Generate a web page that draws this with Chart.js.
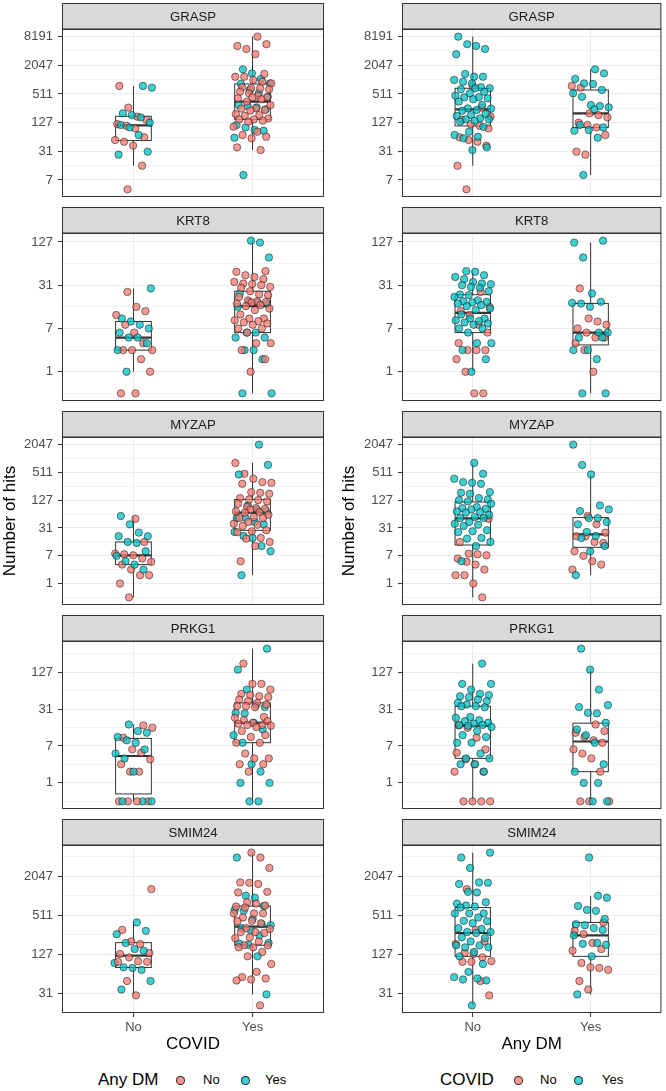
<!DOCTYPE html>
<html>
<head>
<meta charset="utf-8">
<script src="https://cdn.jsdelivr.net/npm/chart.js@4.4.1/dist/chart.umd.min.js"></script>
<style>
  body { margin: 0; background: #fff; font-family: "Liberation Sans", Arial, sans-serif; }
  #wrap { position: relative; width: 666px; height: 1091px; overflow: hidden; }
  #wrap canvas { position: absolute; }
  .ytitle { position: absolute; width: 200px; height: 20px; line-height: 20px; text-align: center;
            font-size: 17px; color: #000; transform: rotate(-90deg); }
  .lg { position: absolute; height: 20px; line-height: 20px; white-space: nowrap; }
  .dot { position: absolute; width: 7px; height: 7px; border-radius: 50%; border: 0.7px solid rgba(0,0,0,0.8); }
</style>
</head>
<body>
<div id="wrap"></div>
<script>
// facets and categories
const genes = ["GRASP", "KRT8", "MYZAP", "PRKG1", "SMIM24"];
const groupLabels = ["No", "Yes"];

// values are log2(hits + 1)
// covNo_dmNo = COVID No & Any DM No, etc.
const graspCovNoDmNo = [9.56, 8.05, 7.42, 7.2, 6.9, 6.79, 6.6, 5.98, 5.79, 5.67, 5.4, 4.0, 2.35];
const graspCovNoDmYes = [9.56, 9.44, 7.65, 7.53, 7.37, 7.0, 6.84, 6.67, 6.14, 4.98, 4.77];
const graspCovYesDmNo = [13.0, 12.47, 12.35, 12.14, 11.77, 10.4, 10.2, 10.2, 9.98, 9.86, 9.74, 9.47, 9.4, 9.4, 9.33,
  9.16, 9.05, 8.88, 8.77, 8.77, 8.7, 8.63, 8.47, 8.23, 8.0, 7.98, 7.88, 7.84, 7.6, 7.53, 7.47, 7.3, 7.23, 7.23, 7.14,
  7.07, 6.72, 6.37, 6.14, 6.02, 5.91, 5.28, 5.09];
const graspCovYesDmYes = [10.72, 10.44, 10.05, 9.74, 9.7, 9.28, 9.05, 8.81, 8.23, 8.16, 8.07, 7.93, 6.84, 6.67, 6.49,
  6.44, 5.95, 3.35];

const krt8CovNoDmNo = [4.69, 4.0, 3.8, 3.62, 3.17, 2.81, 2.32, 2.0, 2.0, 2.0, 1.58, 1.0, 0, 0];
const krt8CovNoDmYes = [4.85, 3.46, 3.32, 3.17, 3.0, 2.81, 2.58, 2.58, 2.32, 2.0, 1.0];
const krt8CovYesDmNo = [5.65, 5.62, 5.46, 5.38, 5.28, 5.15, 5.08, 5.05, 5.0, 4.92, 4.88, 4.72, 4.57, 4.54, 4.46, 4.3,
  4.25, 4.23, 4.2, 4.15, 4.08, 4.03, 3.92, 3.85, 3.65, 3.46, 3.46, 3.38, 3.34, 3.28, 3.23, 3.17, 3.0, 3.0, 2.81, 2.32,
  2.32, 2.0, 1.58, 1.0];
const krt8CovYesDmYes = [7.06, 6.97, 6.28, 4.62, 4.23, 4.18, 4.15, 4.0, 2.81, 2.81, 2.58, 2.58, 2.0, 2.0, 1.58, 0, 0];

const myzapCovNoDmNo = [5.66, 3.99, 3.15, 3.1, 3.03, 2.8, 2.56, 2.36, 2.0, 1.6, 1.6, 1.0, 0];
const myzapCovNoDmYes = [5.86, 5.26, 4.66, 4.4, 4.4, 3.99, 3.92, 3.32, 2.99, 2.6, 2.36, 2.0];
const myzapCovYesDmNo = [9.68, 8.9, 8.54, 8.3, 8.25, 8.18, 7.58, 7.53, 7.46, 7.15, 7.05, 7.0, 6.91, 6.74, 6.5, 6.43,
  6.38, 6.33, 6.19, 6.14, 6.1, 5.95, 5.78, 5.71, 5.71, 5.43, 5.3, 5.23, 5.14, 4.83, 4.76, 4.7, 4.28, 4.23, 3.99, 3.7, 2.6];
const myzapCovYesDmYes = [11.0, 9.54, 8.85, 6.62, 6.33, 6.22, 5.71, 5.71, 5.43, 5.26, 4.71, 4.42, 4.28, 3.7, 3.32, 1.6];

const prkg1CovNoDmNo = [4.12, 3.99, 3.45, 2.82, 2.64, 2.28, 2.01, 1.61, 1.61, 0, 0, 0, 0];
const prkg1CovNoDmYes = [4.17, 3.81, 3.72, 3.49, 3.31, 3.18, 2.82, 2.59, 2.33, 1.61, 0, 0, 0];
const prkg1CovYesDmNo = [7.47, 6.37, 6.37, 6.06, 5.83, 5.76, 5.7, 5.65, 5.52, 5.43, 5.34, 5.25, 5.16, 5.16, 5.1, 4.57,
  4.53, 4.4, 4.35, 4.26, 4.21, 4.14, 4.14, 4.1, 4.03, 3.81, 3.59, 3.49, 3.18, 3.18, 2.59, 2.33, 2.33, 2.01, 2.01, 1.61];
const prkg1CovYesDmYes = [8.28, 7.14, 6.06, 5.22, 5.11, 4.8, 4.77, 4.26, 3.9, 3.59, 3.18, 2.01, 1.61, 1.0, 1.0, 0, 0];

const smim24CovNoDmNo = [10.34, 8.26, 7.67, 7.54, 7.08, 7.03, 6.86, 6.66, 6.63, 6.63, 5.65, 4.92];
const smim24CovNoDmYes = [8.64, 8.21, 8.04, 7.59, 7.28, 7.2, 6.57, 6.35, 6.32, 6.22, 5.65, 5.22];
const smim24CovYesDmNo = [12.2, 11.95, 11.42, 10.68, 10.66, 10.6, 10.2, 10.17, 9.67, 9.6, 9.5, 9.45, 9.4, 9.1, 9.1,
  9.1, 8.89, 8.72, 8.7, 8.6, 8.35, 8.31, 8.15, 8.15, 8.1, 7.88, 7.84, 7.67, 7.47, 7.47, 7.37, 7.37, 7.13, 6.91, 6.52,
  6.12, 5.85, 5.78, 5.73, 5.68, 4.41];
const smim24CovYesDmYes = [11.95, 10.0, 9.9, 9.48, 9.28, 9.23, 8.82, 8.55, 8.5, 8.35, 8.26, 7.98, 7.59, 7.55, 7.5,
  6.91, 4.97];

const geneGroups = [
  [graspCovNoDmNo, graspCovNoDmYes, graspCovYesDmNo, graspCovYesDmYes],
  [krt8CovNoDmNo, krt8CovNoDmYes, krt8CovYesDmNo, krt8CovYesDmYes],
  [myzapCovNoDmNo, myzapCovNoDmYes, myzapCovYesDmNo, myzapCovYesDmYes],
  [prkg1CovNoDmNo, prkg1CovNoDmYes, prkg1CovYesDmNo, prkg1CovYesDmYes],
  [smim24CovNoDmNo, smim24CovNoDmYes, smim24CovYesDmNo, smim24CovYesDmYes]
];

const fillNo = "rgba(248,118,109,0.75)";
const fillYes = "rgba(0,191,196,0.75)";
const xTitles = ["COVID", "Any DM"];
const legendTitles = ["Any DM", "COVID"];

Chart.defaults.font.family = "'Liberation Sans', Arial, sans-serif";

// layout
const STRIP = 26, PANEL_H = 168;
const rowTops = [3, 207, 411, 615, 819];
const cols = [
  { left: 0, width: 330, axisW: 62, padR: 6 },
  { left: 330, width: 336, axisW: 72, padR: 3 }
];

// type 7 quantile
function quantile(sorted, p) {
  const pos = (sorted.length - 1) * p, lo = Math.floor(pos), hi = Math.ceil(pos);
  return sorted[lo] + (sorted[hi] - sorted[lo]) * (pos - lo);
}
function boxStats(vals, pos) {
  const s = vals.slice().sort((a, b) => a - b);
  const q1 = quantile(s, 0.25), med = quantile(s, 0.5), q3 = quantile(s, 0.75);
  const iqr = q3 - q1;
  const lo = Math.min(...s.filter(v => v >= q1 - 1.5 * iqr));
  const hi = Math.max(...s.filter(v => v <= q3 + 1.5 * iqr));
  return { pos, q1, med, q3, lo, hi };
}

const facetPlugin = {
  id: "facet",
  beforeDatasetsDraw(chart, args, opts) {
    const { ctx, chartArea: a, scales: { x, y } } = chart;
    ctx.save();
    ctx.beginPath();
    ctx.rect(a.left, a.top, a.width, a.height);
    ctx.clip();
    ctx.strokeStyle = "#333333";
    opts.boxes.forEach(b => {
      const xc = x.getPixelForValue(b.pos);
      const hw = x.getPixelForValue(b.pos + 0.15) - xc;
      ctx.lineWidth = 1;
      ctx.beginPath();
      ctx.moveTo(xc, y.getPixelForValue(b.hi));
      ctx.lineTo(xc, y.getPixelForValue(b.q3));
      ctx.moveTo(xc, y.getPixelForValue(b.q1));
      ctx.lineTo(xc, y.getPixelForValue(b.lo));
      ctx.stroke();
      const top = y.getPixelForValue(b.q3), bot = y.getPixelForValue(b.q1);
      ctx.fillStyle = "#ffffff";
      ctx.fillRect(xc - hw, top, hw * 2, bot - top);
      ctx.strokeRect(xc - hw, top, hw * 2, bot - top);
      ctx.lineWidth = 2.2;
      ctx.beginPath();
      const m = y.getPixelForValue(b.med);
      ctx.moveTo(xc - hw, m);
      ctx.lineTo(xc + hw, m);
      ctx.stroke();
    });
    ctx.restore();
  },
  afterDraw(chart, args, opts) {
    const { ctx, chartArea: a } = chart;
    ctx.save();
    ctx.strokeStyle = "#333333";
    ctx.lineWidth = 1;
    ctx.strokeRect(a.left + 0.5, a.top + 0.5, a.width - 1, a.height - 1);
    ctx.fillStyle = "#D9D9D9";
    ctx.fillRect(a.left + 0.5, 0.5, a.width - 1, a.top - 0.5);
    ctx.strokeRect(a.left + 0.5, 0.5, a.width - 1, a.top - 0.5);
    ctx.fillStyle = "#1A1A1A";
    ctx.font = "13.2px 'Liberation Sans', Arial, sans-serif";
    ctx.textAlign = "center";
    ctx.textBaseline = "middle";
    ctx.fillText(opts.title, (a.left + a.right) / 2, a.top / 2 + 1);
    ctx.restore();
  }
};

const wrap = document.getElementById("wrap");

function makePanel(row, c) {
  const col = cols[c];
  const isLast = row === genes.length - 1;
  const [nn, ny, yn, yy] = geneGroups[row];
  // left column: x = COVID, fill = Any DM; right column: x = Any DM, fill = COVID
  const columns = c === 0
    ? [{ pos: 1, groups: [[nn, fillNo], [ny, fillYes]] }, { pos: 2, groups: [[yn, fillNo], [yy, fillYes]] }]
    : [{ pos: 1, groups: [[nn, fillNo], [yn, fillYes]] }, { pos: 2, groups: [[ny, fillNo], [yy, fillYes]] }];

  const points = [], colors = [], boxes = [];
  columns.forEach((cl, ci) => {
    const [g1, g2] = cl.groups;
    const n = Math.max(g1[0].length, g2[0].length);
    let k = 0;
    for (let i = 0; i < n; i++) {
      [g1, g2].forEach(([vals, color]) => {
        if (i < vals.length) {
          // spread points sideways around the category like a jitter
          const f = (k * 0.618034 + 0.13 + c * 0.37 + row * 0.21 + ci * 0.5) % 1;
          points.push({ x: cl.pos + (f - 0.5) * 0.32, y: vals[i] });
          colors.push(color);
          k++;
        }
      });
    }
    boxes.push(boxStats(g1[0].concat(g2[0]), cl.pos));
  });

  const all = nn.concat(ny, yn, yy);
  const dMin = Math.min(...all), dMax = Math.max(...all);
  const yMin = dMin - (dMax - dMin) * 0.05, yMax = dMax + (dMax - dMin) * 0.05;

  const canvas = document.createElement("canvas");
  const h = isLast ? 1058 - rowTops[row] : STRIP + PANEL_H + 8;
  canvas.width = col.width;
  canvas.height = h;
  canvas.style.left = col.left + "px";
  canvas.style.top = rowTops[row] + "px";
  canvas.style.width = col.width + "px";
  canvas.style.height = h + "px";
  wrap.appendChild(canvas);

  new Chart(canvas.getContext("2d"), {
    type: "scatter",
    data: {
      datasets: [{
        data: points,
        pointRadius: 3.7,
        pointBackgroundColor: colors,
        pointBorderColor: "rgba(0,0,0,0.8)",
        pointBorderWidth: 0.6
      }]
    },
    options: {
      responsive: false,
      animation: false,
      devicePixelRatio: 1,
      layout: { padding: { top: STRIP, right: col.padR, bottom: isLast ? 3 : 8, left: 0 } },
      plugins: {
        legend: { display: false },
        tooltip: { enabled: false },
        facet: { title: genes[row], boxes: boxes }
      },
      scales: {
        x: {
          type: "linear",
          min: 0.4,
          max: 2.6,
          afterBuildTicks: s => { s.ticks = [{ value: 1 }, { value: 2 }]; },
          afterFit: s => { s.height = isLast ? 42 : 0; s.paddingLeft = 0; s.paddingRight = 0; },
          border: { display: false },
          grid: { color: "#EBEBEB", lineWidth: 1.1, drawTicks: isLast, tickLength: 4, tickColor: "#333333", tickWidth: 1 },
          ticks: {
            display: isLast,
            autoSkip: false,
            maxRotation: 0,
            padding: 3,
            color: "#4D4D4D",
            font: { size: 13 },
            callback: v => groupLabels[v - 1]
          },
          title: { display: isLast, text: xTitles[c], color: "#000000", font: { size: 17 }, padding: 0 }
        },
        y: {
          type: "linear",
          min: yMin,
          max: yMax,
          afterBuildTicks: s => {
            const t = [];
            for (let v = Math.ceil(yMin); v <= Math.floor(yMax); v++) t.push({ value: v });
            s.ticks = t;
          },
          afterFit: s => { s.width = col.axisW; s.paddingTop = 0; s.paddingBottom = 0; },
          border: { display: false },
          grid: {
            color: "#EBEBEB",
            lineWidth: ctx => (ctx.tick && Math.abs(ctx.tick.value % 2) === 1 ? 1.1 : 0.55),
            tickLength: 4,
            tickWidth: 1,
            tickColor: ctx => (ctx.tick && Math.abs(ctx.tick.value % 2) === 1 ? "#333333" : "rgba(0,0,0,0)")
          },
          ticks: {
            autoSkip: false,
            padding: 5,
            color: "#4D4D4D",
            font: { size: 13 },
            callback: v => (Math.abs(v % 2) === 1 ? String(Math.pow(2, v) - 1) : "")
          }
        }
      }
    },
    plugins: [facetPlugin]
  });
}

for (let r = 0; r < genes.length; r++) {
  makePanel(r, 0);
  makePanel(r, 1);
}

// y axis titles
[9.5, 349].forEach(cx => {
  const d = document.createElement("div");
  d.className = "ytitle";
  d.textContent = "Number of hits";
  d.style.left = (cx - 100) + "px";
  d.style.top = (521 - 10) + "px";
  wrap.appendChild(d);
});

// legends
const legendPos = [
  { title: 98, dots: [180, 245], labels: [203, 265] },
  { title: 440, dots: [518, 578], labels: [540, 602] }
];
legendPos.forEach((lp, i) => {
  const t = document.createElement("div");
  t.className = "lg";
  t.style.left = lp.title + "px";
  t.style.top = "1070px";
  t.style.fontSize = "17px";
  t.textContent = legendTitles[i];
  wrap.appendChild(t);
  [fillNo, fillYes].forEach((fill, j) => {
    const d = document.createElement("div");
    d.className = "dot";
    d.style.background = fill;
    d.style.left = (lp.dots[j] - 4) + "px";
    d.style.top = (1080 - 4) + "px";
    wrap.appendChild(d);
    const l = document.createElement("div");
    l.className = "lg";
    l.style.left = lp.labels[j] + "px";
    l.style.top = "1070px";
    l.style.fontSize = "13px";
    l.style.color = "#000";
    l.textContent = groupLabels[j];
    wrap.appendChild(l);
  });
});
</script>
</body>
</html>
